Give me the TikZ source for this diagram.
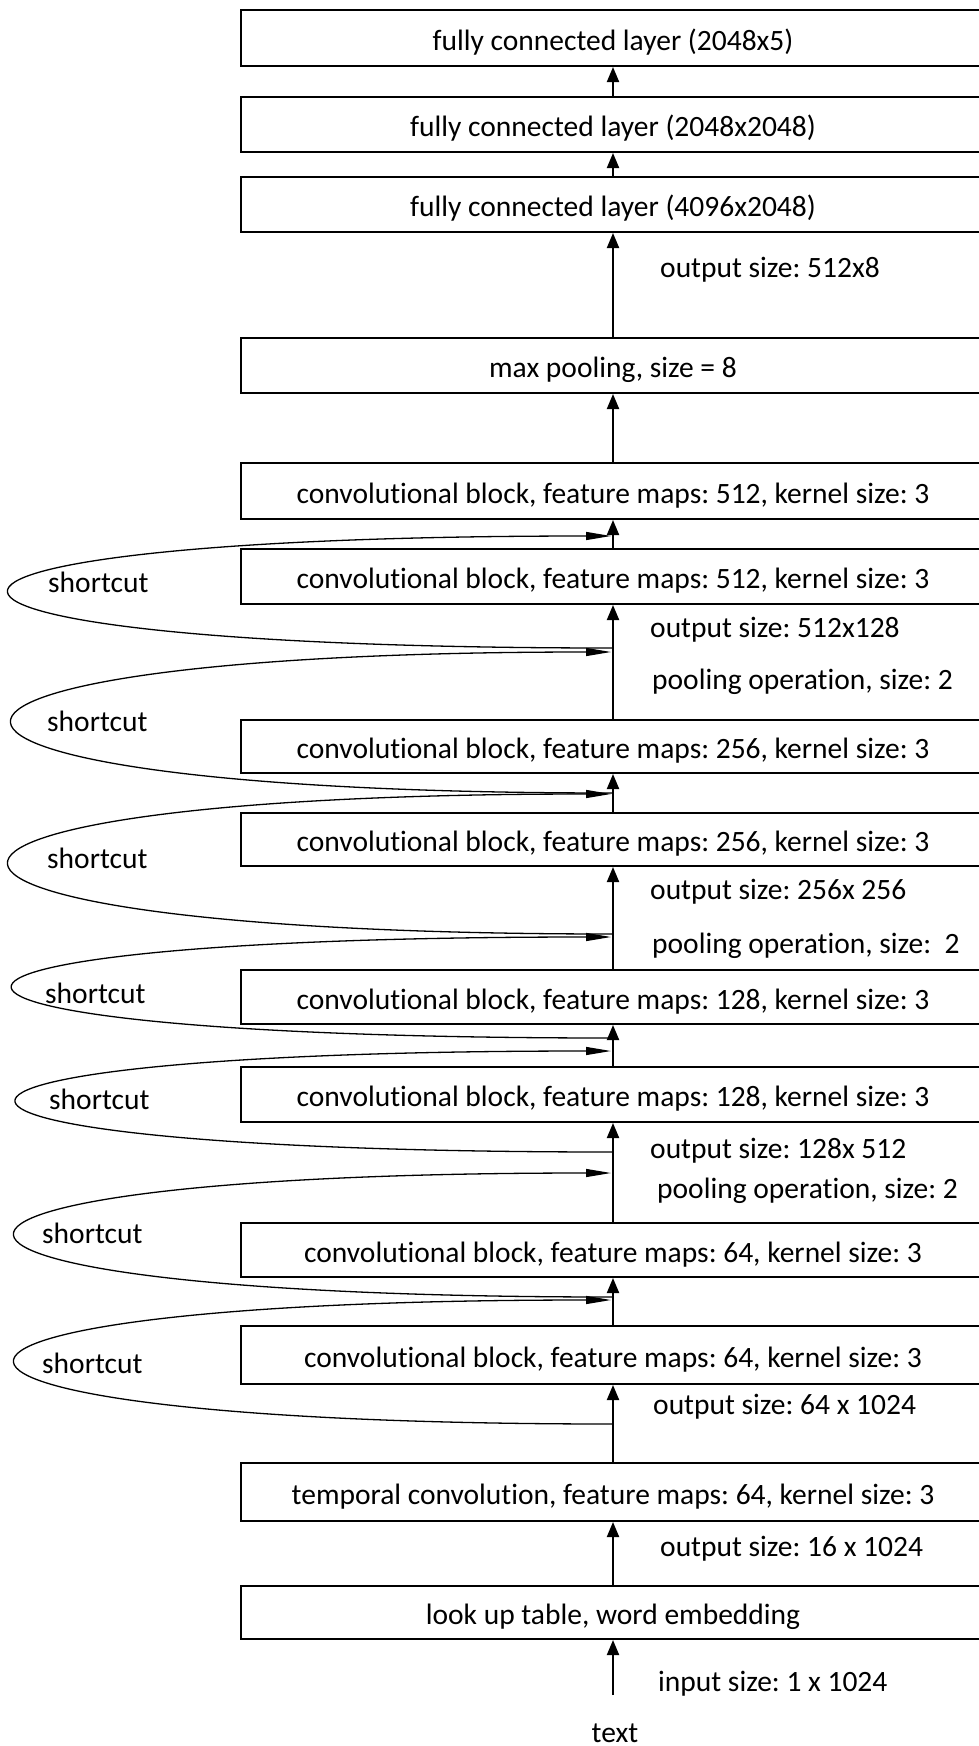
\documentclass[tikz,border=0pt]{standalone}
\usepackage{fontspec}
\setmainfont{Carlito}[Ligatures=NoCommon]
\usetikzlibrary{arrows.meta}
\frenchspacing
\begin{document}
\begin{tikzpicture}[x=1pt,y=-1pt,
  lbl/.style={font=\fontsize{29.5pt}{34pt}\selectfont, inner sep=0pt},
  layer/.style={lbl, draw, line width=2pt, rectangle, minimum width=744pt,
                text height=24pt, text depth=0pt},
  note/.style={lbl, anchor=base west},
  sclabel/.style={lbl, anchor=base west},
  flow/.style={line width=2pt, -{Triangle[length=15pt,width=12pt]}},
  skip/.style={line width=1.3pt, -{Triangle[length=25pt,width=8pt]}},
]
\useasboundingbox (0,0) rectangle (979,1746);
\clip (0,0) rectangle (979,1746);

% layers, top to bottom
\node[layer, minimum height=56pt] (fc3) at (613,38)    {fully connected layer (2048x5)};
\node[layer, minimum height=55pt] (fc2) at (613,124.5) {fully connected layer (2048x2048)};
\node[layer, minimum height=55pt] (fc1) at (613,204.5) {fully connected layer (4096x2048)};
\node[layer, minimum height=55pt] (mp)  at (613,365.5) {max pooling, size = 8};
\node[layer, minimum height=56pt] (c8)  at (613,491)   {convolutional block, feature maps: 512, kernel size: 3};
\node[layer, minimum height=55pt] (c7)  at (613,576.5) {convolutional block, feature maps: 512, kernel size: 3};
\node[layer, minimum height=53pt] (c6)  at (613,746.5) {convolutional block, feature maps: 256, kernel size: 3};
\node[layer, minimum height=53pt] (c5)  at (613,839.5) {convolutional block, feature maps: 256, kernel size: 3};
\node[layer, minimum height=54pt] (c4)  at (613,997)   {convolutional block, feature maps: 128, kernel size: 3};
\node[layer, minimum height=55pt] (c3)  at (613,1094.5){convolutional block, feature maps: 128, kernel size: 3};
\node[layer, minimum height=54pt] (c2)  at (613,1250)  {convolutional block, feature maps: 64, kernel size: 3};
\node[layer, minimum height=58pt] (c1)  at (613,1355)  {convolutional block, feature maps: 64, kernel size: 3};
\node[layer, minimum height=58pt] (tc)  at (613,1492)  {temporal convolution, feature maps: 64, kernel size: 3};
\node[layer, minimum height=53pt] (lut) at (613,1612.5){look up table, word embedding};

% input text
\node[lbl, anchor=base] (txt) at (615,1742) {text};
\coordinate (tin) at (613,1695);

% main data flow
\draw[flow] (tin) -- (lut.south);
\draw[flow] (lut.north) -- (tc.south);
\draw[flow] (tc.north) -- (c1.south);
\draw[flow] (c1.north) -- (c2.south);
\draw[flow] (c2.north) -- (c3.south);
\draw[flow] (c3.north) -- (c4.south);
\draw[flow] (c4.north) -- (c5.south);
\draw[flow] (c5.north) -- (c6.south);
\draw[flow] (c6.north) -- (c7.south);
\draw[flow] (c7.north) -- (c8.south);
\draw[flow] (c8.north) -- (mp.south);
\draw[flow] (mp.north) -- (fc1.south);
\draw[flow] (fc1.north) -- (fc2.south);
\draw[flow] (fc2.north) -- (fc3.south);

% sizes beside the flow
\node[note] (n1)  at (660,277)  {output size: 512x8};
\node[note] (n2)  at (650,637)  {output size: 512x128};
\node[note] (n3)  at (652,689)  {pooling operation, size: 2};
\node[note] (n4)  at (650,899)  {output size: 256x 256};
\node[note] (n5)  at (652,953)  {pooling operation, size:\ \ 2};
\node[note] (n6)  at (650,1158) {output size: 128x 512};
\node[note] (n7)  at (657,1198) {pooling operation, size: 2};
\node[note] (n8)  at (653,1414) {output size: 64 x 1024};
\node[note] (n9)  at (660,1556) {output size: 16 x 1024};
\node[note] (n10) at (658,1691) {input size: 1 x 1024};

% shortcut connections: taps on the flow line and re-entry points
\coordinate (s1lo) at (613,648);  \coordinate (s1hi) at (611,536);
\coordinate (s2lo) at (613,793);  \coordinate (s2hi) at (611,652);
\coordinate (s3lo) at (613,934);  \coordinate (s3hi) at (611,794);
\coordinate (s4lo) at (613,1038); \coordinate (s4hi) at (611,937);
\coordinate (s5lo) at (613,1152); \coordinate (s5hi) at (611,1051);
\coordinate (s6lo) at (613,1297); \coordinate (s6hi) at (611,1173);
\coordinate (s7lo) at (613,1424); \coordinate (s7hi) at (611,1300);

\draw[skip] (s1lo) .. controls (-190,648)  and (-190,536)  .. (s1hi);
\draw[skip] (s2lo) .. controls (-186,793)  and (-186,652)  .. (s2hi);
\draw[skip] (s3lo) .. controls (-190,934)  and (-190,794)  .. (s3hi);
\draw[skip] (s4lo) .. controls (-185,1038) and (-185,937)  .. (s4hi);
\draw[skip] (s5lo) .. controls (-180,1152) and (-180,1051) .. (s5hi);
\draw[skip] (s6lo) .. controls (-182,1297) and (-182,1173) .. (s6hi);
\draw[skip] (s7lo) .. controls (-182,1424) and (-182,1300) .. (s7hi);

\node[sclabel] (l1) at (48,592)  {shortcut};
\node[sclabel] (l2) at (47,731)  {shortcut};
\node[sclabel] (l3) at (47,868)  {shortcut};
\node[sclabel] (l4) at (45,1003) {shortcut};
\node[sclabel] (l5) at (49,1109) {shortcut};
\node[sclabel] (l6) at (42,1243) {shortcut};
\node[sclabel] (l7) at (42,1373) {shortcut};
\end{tikzpicture}
\end{document}
